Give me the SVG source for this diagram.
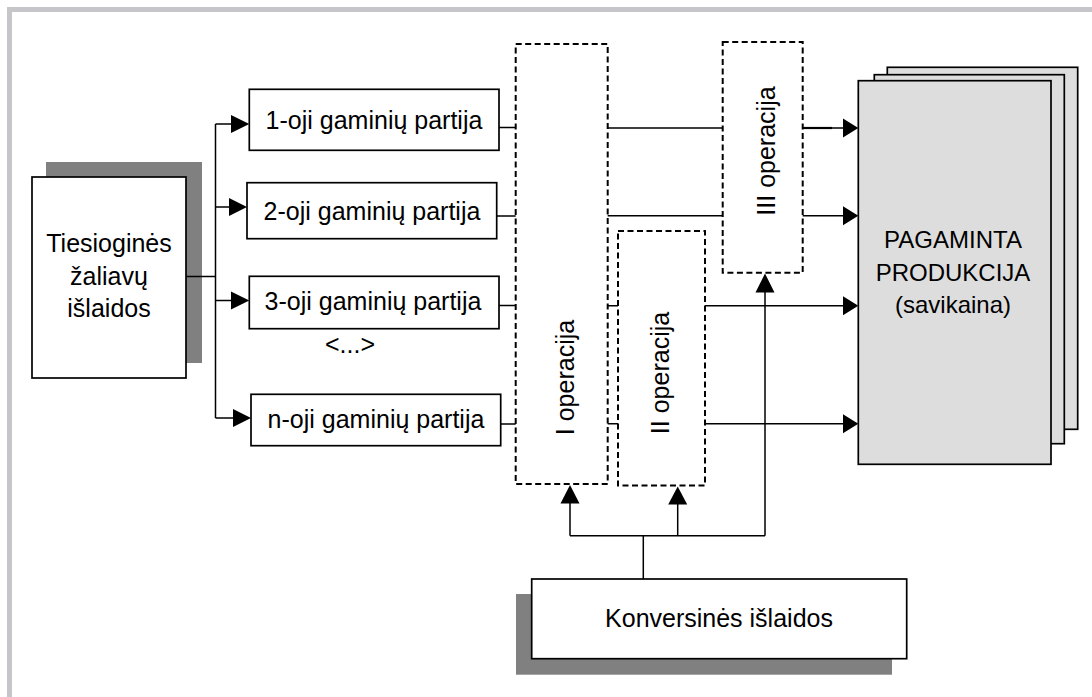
<svg xmlns="http://www.w3.org/2000/svg" width="1092" height="697" viewBox="0 0 1092 697">
<style>
.box{fill:#fff;stroke:#000;stroke-width:1.7}
.shadow{fill:#808080;stroke:none}
.dash{fill:none;stroke:#000;stroke-width:2;stroke-dasharray:6 3.5}
.prod{fill:#dddddd;stroke:#000;stroke-width:1.7}
.ln{fill:none;stroke:#000;stroke-width:1.5}
.ah{fill:#000;stroke:none}
text{font-family:"Liberation Sans",Arial,sans-serif;font-size:25px;fill:#000;text-anchor:middle}
.big{font-size:24px}
</style>
<rect x="0" y="0" width="1092" height="697" fill="#fff"/>
<g id="frame">
<rect x="7" y="7" width="1085" height="5" fill="#c6c6ca"/>
<rect x="7" y="7" width="5" height="690" fill="#c6c6ca"/>
</g>
<g id="tiesiogines">
<rect class="shadow" x="46" y="162" width="156" height="201"/>
<rect class="box" x="32" y="177" width="154" height="201"/>
<text x="109" y="252">Tiesioginės</text>
<text x="109" y="285">žaliavų</text>
<text x="109" y="317">išlaidos</text>
</g>
<g id="partija1">
<rect class="box" x="249.3" y="89.3" width="249.7" height="61"/>
<text x="374" y="128.5">1-oji gaminių partija</text>
</g>
<g id="partija2">
<rect class="box" x="247" y="182.7" width="249.7" height="56"/>
<text x="372" y="219.5">2-oji gaminių partija</text>
</g>
<g id="partija3">
<rect class="box" x="249.3" y="276.3" width="249.7" height="52.4"/>
<text x="373" y="310">3-oji gaminių partija</text>
</g>
<g id="ellipsis">
<text x="350" y="353">&lt;...&gt;</text>
</g>
<g id="partijaN">
<rect class="box" x="251" y="394.3" width="249.7" height="51.4"/>
<text x="376" y="428">n-oji gaminių partija</text>
</g>
<g id="op1">
<rect class="dash" x="515.7" y="44" width="92" height="440"/>
<text transform="translate(573.5,377.5) rotate(-90)">I operacija</text>
</g>
<g id="op2">
<rect class="dash" x="618" y="231" width="87" height="254.5"/>
<text transform="translate(668.5,373) rotate(-90)">II operacija</text>
</g>
<g id="op3">
<rect class="dash" x="722.7" y="42" width="80" height="230.7"/>
<text transform="translate(775,151) rotate(-90)">III operacija</text>
</g>
<g id="produkcija">
<rect class="prod" x="887.3" y="67.3" width="190.4" height="362"/>
<rect class="prod" x="874.3" y="74.7" width="190" height="369"/>
<rect class="prod" x="858.3" y="80.7" width="192.7" height="383.6"/>
<text class="big" x="953" y="248.3">PAGAMINTA</text>
<text class="big" x="953" y="280.7">PRODUKCIJA</text>
<text class="big" x="953" y="313">(savikaina)</text>
</g>
<g id="konversines">
<rect class="shadow" x="516" y="594" width="376" height="80.7"/>
<rect class="box" x="531.7" y="579" width="375" height="79.7"/>
<text x="719" y="627">Konversinės išlaidos</text>
</g>
<g id="connectors">
<path class="ln" d="M186 276.5H215.5M215.5 124V418M215.5 124H231M215.5 207H229M215.5 300.5H231M215.5 418H233"/>
<polygon class="ah" points="231,115 249.3,124 231,133"/>
<polygon class="ah" points="229,198 247,207 229,216"/>
<polygon class="ah" points="231,291.5 249.3,300.5 231,309.5"/>
<polygon class="ah" points="233,409 251,418 233,427"/>
<path class="ln" d="M499 127.5H515.7M496.7 216H515.7M499 305.5H515.7M500.7 424H515.7"/>
<path class="ln" d="M607.7 128H722.7M607.7 215.7H722.7M607.7 305.7H618M607.7 423.7H618"/>
<path class="ln" d="M802.7 128H843M802.7 215.7H843M705 305.7H843M705 423.7H843"/>
<path d="M803 128H832" stroke="#000" stroke-width="2.2"/>
<polygon class="ah" points="843,118.5 858.3,128 843,137.5"/>
<polygon class="ah" points="843,206.2 858.3,215.7 843,225.2"/>
<polygon class="ah" points="843,296.2 858.3,305.7 843,315.2"/>
<polygon class="ah" points="843,414.2 858.3,423.7 843,433.2"/>
<path class="ln" d="M643.3 579V535.7M570 535.7H765M570 535.7V503M677.7 535.7V504M765 535.7V292"/>
<polygon class="ah" points="560.5,503.5 570,485 579.5,503.5"/>
<polygon class="ah" points="668.2,504.5 677.7,486.5 687.2,504.5"/>
<polygon class="ah" points="755.5,292.5 765,273.5 774.5,292.5"/>
</g>
</svg>
